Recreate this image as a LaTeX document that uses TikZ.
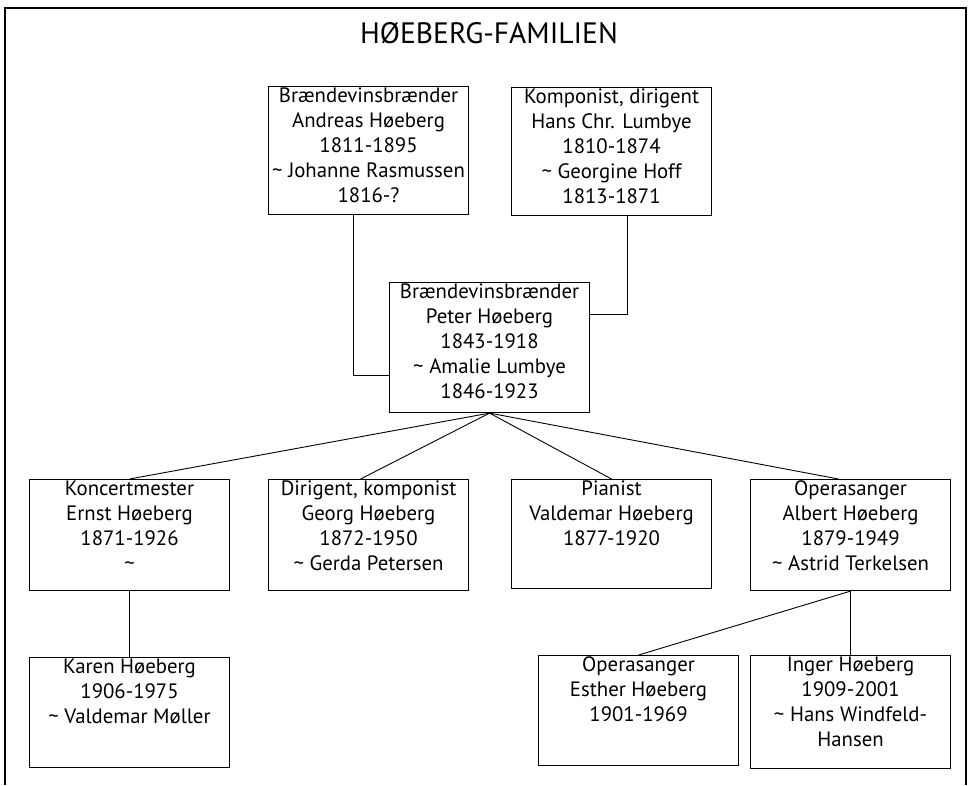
\documentclass[tikz,border=0pt]{standalone}
\usepackage{fontspec}
\setmainfont{PT Sans}
\newcommand{\famtext}[2]{\parbox[c][#1][t]{196pt}{\centering\fontsize{20.8}{25}\selectfont #2}}

\begin{document}
\begin{tikzpicture}[x=1pt,y=-1pt,
  fambox/.style={draw,line width=1.1pt,inner xsep=2pt,inner ysep=1pt,anchor=north west},
  famline/.style={line width=0.9pt}]
\useasboundingbox (0,0) rectangle (972,785);
\draw[line width=1.2pt] (5,785) -- (5,8) -- (966,8) -- (966,785);
\node[font=\fontsize{29.5}{33}\selectfont] (title) at (489,33) {HØEBERG-FAMILIEN};
\node[fambox] (andreas) at (268,86) {\famtext{126pt}{Brændevinsbrænder\\Andreas Høeberg\\1811-1895\\\textasciitilde{} Johanne Rasmussen\\1816-?}};
\node[fambox] (lumbye) at (511,87) {\famtext{126pt}{Komponist, dirigent\\Hans Chr. Lumbye\\1810-1874\\\textasciitilde{} Georgine Hoff\\1813-1871}};
\node[fambox] (peter) at (389,282) {\famtext{128pt}{Brændevinsbrænder\\Peter Høeberg\\1843-1918\\\textasciitilde{} Amalie Lumbye\\1846-1923}};
\node[fambox] (ernst) at (29,479) {\famtext{109pt}{Koncertmester\\Ernst Høeberg\\1871-1926\\\textasciitilde}};
\node[fambox] (georg) at (268,479) {\famtext{109pt}{Dirigent, komponist\\Georg Høeberg\\1872-1950\\\textasciitilde{} Gerda Petersen}};
\node[fambox] (valdemar) at (511,479) {\famtext{107pt}{Pianist\\Valdemar Høeberg\\1877-1920}};
\node[fambox] (albert) at (750,479) {\famtext{109pt}{Operasanger\\Albert Høeberg\\1879-1949\\\textasciitilde{} Astrid Terkelsen}};
\node[fambox] (karen) at (29,657) {\famtext{108pt}{Karen Høeberg\\1906-1975\\\textasciitilde{} Valdemar Møller}};
\node[fambox] (esther) at (538,655) {\famtext{108pt}{Operasanger\\Esther Høeberg\\1901-1969}};
\node[fambox] (inger) at (750,655) {\famtext{111pt}{Inger Høeberg\\1909-2001\\\textasciitilde{} Hans Windfeld-\\Hansen}};
\draw[famline] ([xshift=-15pt]andreas.south) |- ([yshift=-28pt]peter.west);
\draw[famline] ([xshift=16pt]lumbye.south) |- ([yshift=33pt]peter.east);
\draw[famline] (peter.south) -- (ernst.north);
\draw[famline] (peter.south) -- ([xshift=-8pt]georg.north);
\draw[famline] (peter.south) -- (valdemar.north);
\draw[famline] (peter.south) -- ([xshift=-12pt]albert.north);
\draw[famline] (ernst.south) -- (karen.north);
\draw[famline] (albert.south) -- (esther.north);
\draw[famline] (albert.south) -- (inger.north);
\end{tikzpicture}
\end{document}
